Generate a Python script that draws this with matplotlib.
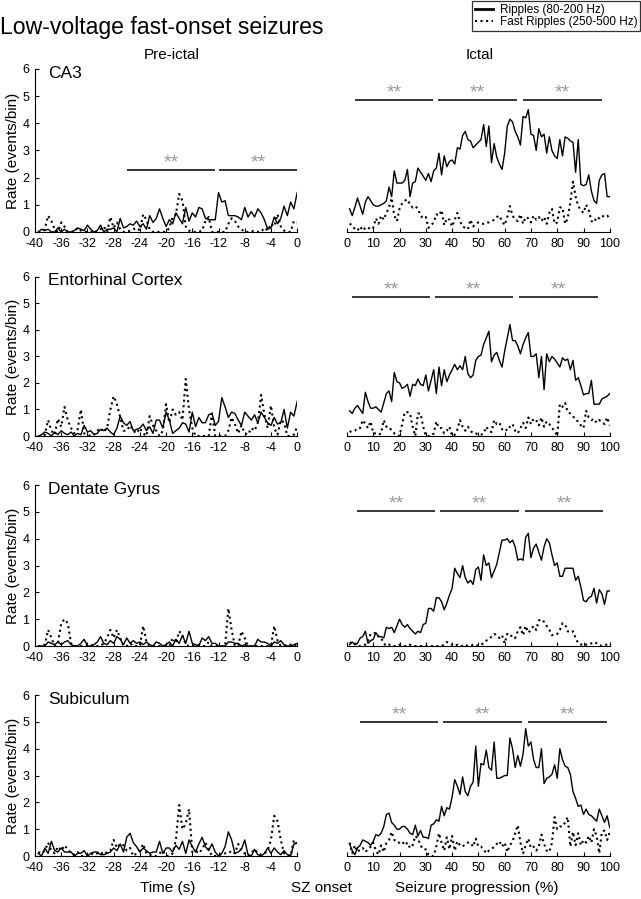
import numpy as np
import matplotlib.pyplot as plt
from matplotlib.lines import Line2D

plt.rcParams['font.family'] = ['Liberation Sans', 'DejaVu Sans']
plt.rcParams['axes.unicode_minus'] = False

# Eixos x: pre-ictal (bins de 0.5 s) e ictal (bins de 1 %)
t_pre = np.arange(-39.5, 0.01, 0.5)
t_ict = np.arange(1, 101)

regioes = ['CA3', 'Entorhinal Cortex', 'Dentate Gyrus', 'Subiculum']

# ---- CA3 ----
ca3_pre_rip = [0.0, 0.1, 0.05, 0.1, 0.0, 0.0, 0.15, 0.0, 0.1, 0.0,
               0.0, 0.05, 0.15, 0.1, 0.05, 0.25, 0.1, 0.0, 0.05, 0.25,
               0.0, 0.1, 0.1, 0.15, 0.0, 0.5, 0.15, 0.2, 0.3, 0.25,
               0.4, 0.2, 0.3, 0.1, 0.6, 0.35, 0.5, 0.85, 0.5, 0.2,
               0.45, 0.3, 0.7, 0.5, 0.3, 0.9, 0.4, 0.7, 0.55, 0.9,
               0.85, 0.5, 0.45, 0.45, 0.45, 1.45, 1.1, 1.15, 0.6, 0.6,
               0.6, 0.55, 0.45, 0.9, 0.55, 0.75, 0.55, 0.85, 0.7, 0.45,
               0.1, 0.15, 0.55, 0.3, 0.5, 0.95, 0.6, 1.1, 0.85, 1.45]
ca3_pre_fr = [0.0, 0.0, 0.1, 0.6, 0.4, 0.1, 0.0, 0.35, 0.2, 0.0,
              0.0, 0.0, 0.15, 0.05, 0.0, 0.0, 0.0, 0.05, 0.0, 0.1,
              0.2, 0.0, 0.55, 0.15, 0.35, 0.1, 0.0, 0.0, 0.05, 0.1,
              0.15, 0.05, 0.65, 0.45, 0.1, 0.0, 0.0, 0.0, 0.0, 0.0,
              0.15, 0.55, 0.65, 1.4, 1.15, 0.2, 0.05, 0.0, 0.0, 0.0,
              0.05, 0.4, 0.55, 0.0, 0.0, 0.0, 0.0, 0.0, 0.3, 0.5,
              0.4, 0.2, 0.1, 0.0, 0.0, 0.05, 0.0, 0.0, 0.0, 0.15,
              0.05, 0.3, 0.2, 0.65, 0.2, 0.05, 0.0, 0.0, 0.4, 0.35]
ca3_ict_rip = [0.85, 0.6, 0.9, 1.25, 0.95, 0.65, 1.1, 1.3, 1.15, 1.0,
               0.95, 0.95, 1.0, 1.05, 1.15, 1.65, 1.3, 2.25, 1.8, 1.8,
               1.8, 1.9, 2.3, 1.3, 1.8, 1.85, 2.35, 2.2, 2.05, 1.9,
               2.15, 1.85, 2.25, 2.35, 2.9, 2.1, 2.8, 2.4, 2.6, 2.65,
               2.5, 3.1, 3.05, 3.55, 3.7, 3.4, 3.35, 3.1, 3.2, 3.3,
               3.4, 3.95, 3.15, 3.9, 2.55, 3.25, 2.75, 2.5, 2.3, 2.9,
               3.9, 4.15, 4.05, 3.7, 3.5, 3.2, 4.25, 4.2, 4.5, 3.6,
               3.55, 3.0, 3.8, 3.5, 3.6, 2.9, 3.5, 3.0, 2.8, 2.7,
               3.4, 2.8, 3.5, 3.45, 3.35, 3.3, 2.2, 3.4, 1.75, 1.7,
               1.75, 2.1, 1.5, 1.15, 1.05, 1.9, 2.1, 2.15, 1.3, 1.3]
ca3_ict_fr = [0.3, 0.25, 0.1, 0.05, 0.2, 0.05, 0.15, 0.1, 0.2, 0.15,
              0.5, 0.3, 0.6, 0.45, 0.7, 0.9, 1.25, 0.6, 0.4, 0.85,
              1.05, 1.15, 1.2, 1.0, 0.9, 0.95, 0.85, 0.6, 0.5, 0.55,
              0.15, 0.25, 0.35, 0.65, 0.6, 0.8, 0.25, 0.5, 0.45, 0.2,
              0.45, 0.7, 0.4, 0.2, 0.15, 0.1, 0.45, 0.2, 0.3, 0.35,
              0.3, 0.3, 0.35, 0.35, 0.4, 0.45, 0.55, 0.6, 0.4, 0.25,
              0.55, 0.95, 0.6, 0.45, 0.4, 0.65, 0.3, 0.55, 0.5, 0.35,
              0.6, 0.45, 0.55, 0.4, 0.55, 0.3, 0.7, 0.85, 0.3, 0.35,
              0.9, 0.9, 0.3, 0.5, 1.1, 1.85, 1.3, 0.95, 0.8, 0.7,
              1.0, 0.8, 0.4, 0.35, 0.55, 0.5, 0.6, 0.55, 0.6, 0.5]

# ---- Entorhinal Cortex ----
ec_pre_rip = [0.0, 0.05, 0.15, 0.1, 0.0, 0.15, 0.05, 0.2, 0.1, 0.05,
              0.15, 0.0, 0.1, 0.05, 0.4, 0.15, 0.2, 0.05, 0.1, 0.25,
              0.2, 0.3, 0.15, 0.05, 0.3, 0.75, 0.5, 0.4, 0.55, 0.2,
              0.25, 0.3, 0.45, 0.2, 0.35, 0.1, 0.6, 0.6, 0.3, 0.9,
              0.6, 0.1, 0.2, 0.3, 0.5, 0.45, 0.15, 0.9, 0.35, 0.7,
              0.5, 0.5, 0.8, 0.85, 0.4, 0.55, 1.45, 1.1, 0.7, 0.9,
              0.85, 0.6, 0.4, 0.9, 0.75, 0.6, 0.8, 0.5, 0.9, 0.7,
              0.5, 0.4, 0.7, 0.45, 0.5, 1.0, 0.3, 0.9, 0.75, 1.3]
ec_pre_fr = [0.0, 0.0, 0.05, 0.6, 0.2, 0.05, 0.65, 0.35, 1.1, 0.6,
             0.3, 0.1, 0.25, 1.0, 0.1, 0.05, 0.0, 0.05, 0.2, 0.3,
             0.15, 0.3, 1.0, 1.5, 1.2, 0.7, 0.2, 0.2, 0.4, 0.2,
             0.1, 0.3, 0.1, 0.0, 0.75, 0.4, 0.2, 0.0, 0.2, 1.2,
             0.5, 1.0, 0.8, 0.9, 0.6, 2.15, 1.0, 0.3, 0.0, 0.0,
             0.0, 0.0, 0.0, 0.85, 0.0, 0.0, 0.0, 0.0, 0.2, 0.7,
             0.45, 0.1, 0.4, 0.1, 0.05, 0.3, 0.2, 0.5, 1.55, 0.8,
             0.3, 1.15, 0.3, 0.05, 0.6, 0.5, 0.0, 0.0, 0.05, 0.35]
ec_ict_rip = [0.95, 0.85, 1.05, 1.15, 1.0, 0.85, 1.65, 1.3, 1.05, 1.05,
              1.1, 1.0, 0.9, 1.25, 1.6, 1.7, 1.3, 2.4, 2.05, 2.0,
              1.8, 1.85, 1.95, 1.5, 1.95, 1.9, 2.15, 1.95, 1.9, 2.3,
              1.7, 2.1, 2.5, 1.6, 2.6, 1.9, 2.5, 2.05, 2.3, 2.5,
              2.7, 2.5, 2.65, 2.5, 3.0, 2.35, 2.2, 2.3, 2.85, 3.0,
              3.05, 3.45, 3.7, 3.95, 2.8, 3.05, 3.15, 2.85, 2.6, 3.2,
              3.7, 4.2, 3.6, 3.6, 3.4, 3.1, 3.45, 3.7, 3.9, 3.0,
              3.0, 3.1, 2.2, 3.0, 1.75, 3.1, 2.8, 3.0, 2.9, 2.75,
              2.6, 2.95, 2.85, 2.9, 2.5, 2.85, 2.1, 2.2, 1.9, 1.55,
              1.6, 1.6, 2.1, 1.2, 1.2, 1.2, 1.4, 1.45, 1.5, 1.6]
ec_ict_fr = [0.15, 0.2, 0.2, 0.3, 0.3, 0.6, 0.45, 0.3, 0.55, 0.1,
             0.1, 0.05, 0.1, 0.6, 0.35, 0.35, 0.2, 0.1, 0.05, 0.0,
             0.45, 0.9, 0.9, 0.85, 0.35, 0.0, 0.85, 0.85, 0.35, 0.0,
             0.0, 0.0, 0.1, 0.55, 0.3, 0.3, 0.1, 0.2, 0.35, 0.0,
             0.05, 0.25, 0.6, 0.35, 0.2, 0.35, 0.2, 0.1, 0.1, 0.05,
             0.05, 0.1, 0.35, 0.2, 0.15, 0.6, 0.45, 0.5, 0.25, 0.3,
             0.2, 0.35, 0.45, 0.2, 0.1, 0.3, 0.5, 0.3, 0.7, 0.45,
             0.65, 0.6, 0.4, 0.7, 0.35, 0.55, 0.45, 0.3, 0.2, 0.0,
             1.2, 1.1, 1.25, 0.9, 0.85, 0.75, 0.6, 0.55, 0.4, 0.3,
             0.95, 0.7, 0.6, 0.65, 0.5, 0.6, 0.55, 0.45, 0.7, 0.4]

# ---- Dentate Gyrus ----
dg_pre_rip = [0.0, 0.0, 0.0, 0.15, 0.1, 0.05, 0.15, 0.05, 0.15, 0.2,
              0.05, 0.0, 0.0, 0.1, 0.25, 0.0, 0.0, 0.05, 0.15, 0.35,
              0.1, 0.05, 0.2, 0.1, 0.35, 0.25, 0.05, 0.3, 0.1, 0.2,
              0.1, 0.15, 0.05, 0.15, 0.05, 0.0, 0.15, 0.1, 0.0, 0.05,
              0.15, 0.0, 0.25, 0.1, 0.4, 0.1, 0.55, 0.1, 0.05, 0.0,
              0.3, 0.2, 0.35, 0.1, 0.1, 0.0, 0.0, 0.0, 0.15, 0.15,
              0.1, 0.1, 0.0, 0.05, 0.0, 0.0, 0.0, 0.25, 0.15, 0.15,
              0.1, 0.0, 0.15, 0.1, 0.2, 0.05, 0.0, 0.0, 0.05, 0.1]
dg_pre_fr = [0.0, 0.0, 0.05, 0.6, 0.3, 0.0, 0.1, 0.85, 1.0, 0.85,
             0.1, 0.0, 0.0, 0.0, 0.0, 0.0, 0.05, 0.0, 0.0, 0.0,
             0.1, 0.3, 0.6, 0.3, 0.6, 0.3, 0.0, 0.0, 0.1, 0.0,
             0.0, 0.0, 0.75, 0.15, 0.0, 0.0, 0.0, 0.0, 0.0, 0.0,
             0.0, 0.3, 0.1, 0.55, 0.4, 0.05, 0.0, 0.0, 0.0, 0.05,
             0.0, 0.0, 0.15, 0.0, 0.0, 0.0, 0.0, 0.0, 1.4, 0.6,
             0.0, 0.0, 0.55, 0.3, 0.0, 0.0, 0.0, 0.0, 0.0, 0.0,
             0.0, 0.0, 0.75, 0.2, 0.0, 0.0, 0.05, 0.05, 0.0, 0.1]
dg_ict_rip = [0.05, 0.15, 0.05, 0.1, 0.3, 0.35, 0.55, 0.1, 0.2, 0.25,
              0.5, 0.35, 0.35, 0.3, 0.7, 0.65, 0.7, 0.5, 0.75, 1.0,
              0.8, 0.7, 0.8, 0.65, 0.55, 0.45, 0.55, 0.5, 0.8, 0.85,
              1.4, 1.4, 1.3, 1.8, 1.8, 1.65, 1.35, 1.6, 1.9, 2.15,
              2.9, 2.7, 2.55, 3.0, 2.55, 2.35, 2.45, 2.3, 2.85, 2.95,
              2.45, 3.4, 3.0, 3.1, 2.55, 2.8, 3.05, 3.5, 3.95, 3.95,
              4.0, 3.85, 3.95, 3.7, 3.2, 3.25, 3.2, 4.05, 4.2, 3.3,
              3.65, 3.8, 3.5, 3.2, 3.7, 4.0, 3.85, 3.4, 3.0, 3.1,
              2.6, 2.6, 2.9, 2.9, 2.9, 2.9, 2.45, 2.6, 2.2, 1.7,
              1.65, 1.8, 1.85, 2.15, 1.6, 2.1, 1.95, 1.55, 2.05, 2.05]
dg_ict_fr = [0.1, 0.15, 0.1, 0.0, 0.0, 0.05, 0.05, 0.2, 0.45, 0.45,
             0.5, 0.35, 0.3, 0.1, 0.0, 0.05, 0.05, 0.0, 0.0, 0.05,
             0.05, 0.0, 0.0, 0.05, 0.0, 0.0, 0.0, 0.0, 0.0, 0.0,
             0.0, 0.0, 0.0, 0.0, 0.0, 0.0, 0.05, 0.15, 0.1, 0.05,
             0.0, 0.05, 0.0, 0.0, 0.05, 0.0, 0.0, 0.05, 0.05, 0.0,
             0.05, 0.1, 0.2, 0.25, 0.35, 0.45, 0.4, 0.3, 0.4, 0.1,
             0.45, 0.35, 0.4, 0.3, 0.55, 0.7, 0.4, 0.75, 0.5, 0.6,
             0.75, 0.6, 0.95, 1.0, 0.9, 0.75, 0.6, 0.4, 0.45, 0.45,
             0.6, 0.85, 0.8, 0.55, 0.5, 0.55, 0.3, 0.1, 0.05, 0.1,
             0.05, 0.05, 0.1, 0.15, 0.1, 0.05, 0.0, 0.05, 0.05, 0.05]

# ---- Subiculum ----
sub_pre_rip = [0.1, 0.0, 0.3, 0.1, 0.55, 0.2, 0.15, 0.3, 0.15, 0.15,
               0.15, 0.0, 0.1, 0.1, 0.2, 0.0, 0.1, 0.15, 0.15, 0.05,
               0.05, 0.1, 0.15, 0.3, 0.2, 0.45, 0.15, 0.7, 0.85, 0.5,
               0.35, 0.15, 0.3, 0.2, 0.1, 0.15, 0.15, 0.55, 0.1, 0.3,
               0.3, 0.15, 0.4, 0.25, 0.55, 0.1, 0.6, 0.35, 0.15, 0.45,
               0.7, 0.35, 0.2, 0.45, 0.15, 0.0, 0.1, 0.35, 0.9, 0.6,
               0.1, 0.15, 0.25, 0.6, 0.05, 0.0, 0.25, 0.05, 0.0, 0.1,
               0.3, 0.1, 0.3, 0.15, 0.05, 0.2, 0.05, 0.0, 0.45, 0.5]
sub_pre_fr = [0.15, 0.1, 0.2, 0.5, 0.2, 0.1, 0.35, 0.2, 0.4, 0.25,
              0.1, 0.05, 0.15, 0.0, 0.0, 0.0, 0.1, 0.05, 0.1, 0.15,
              0.05, 0.15, 0.2, 0.6, 0.3, 0.45, 0.4, 0.2, 0.3, 0.0,
              0.1, 0.2, 0.45, 0.1, 0.05, 0.0, 0.0, 0.1, 0.2, 0.0,
              0.0, 0.1, 0.6, 1.9, 1.0, 1.2, 1.75, 0.15, 0.2, 0.1,
              0.25, 0.5, 0.25, 0.0, 0.0, 0.0, 0.1, 0.1, 0.1, 0.2,
              0.1, 0.45, 0.2, 0.1, 0.0, 0.1, 0.25, 0.1, 0.05, 0.1,
              0.2, 0.6, 1.5, 1.3, 0.6, 0.1, 0.05, 0.0, 0.6, 0.4]
sub_ict_rip = [0.45, 0.2, 0.05, 0.3, 0.4, 0.6, 0.55, 0.5, 0.4, 0.55,
               0.8, 0.75, 0.85, 1.1, 1.55, 1.6, 1.25, 1.15, 1.0, 1.0,
               1.1, 1.1, 1.0, 0.85, 0.8, 1.15, 0.75, 0.95, 0.7, 0.7,
               0.65, 1.15, 1.2, 1.35, 1.3, 1.85, 1.5, 1.8, 1.75, 2.2,
               2.85, 2.6, 2.3, 2.95, 2.4, 2.25, 2.6, 2.75, 4.1, 2.6,
               3.45, 3.4, 3.95, 3.3, 3.2, 4.25, 2.9, 2.9, 2.95, 3.0,
               3.0, 4.4, 4.0, 3.3, 3.75, 3.35, 3.8, 4.75, 4.1, 4.25,
               3.6, 3.3, 3.3, 4.0, 2.7, 2.9, 2.95, 3.05, 3.4, 2.9,
               4.0, 3.6, 3.35, 3.3, 3.05, 2.4, 2.15, 1.85, 1.9, 1.55,
               1.75, 1.55, 1.5, 1.4, 1.3, 1.75, 1.5, 1.25, 1.5, 1.05]
sub_ict_fr = [0.5, 0.1, 0.4, 0.15, 0.25, 0.3, 0.15, 0.25, 0.35, 0.5,
              0.2, 0.05, 0.4, 0.15, 0.5, 0.6, 0.9, 0.6, 0.5, 0.5,
              0.55, 0.4, 0.5, 0.3, 0.4, 0.75, 0.65, 0.4, 0.25, 0.25,
              0.05, 0.0, 0.0, 0.35, 0.85, 0.5, 0.2, 0.7, 0.25, 0.75,
              0.2, 0.55, 0.4, 0.35, 0.45, 0.5, 0.5, 0.35, 0.65, 0.35,
              0.35, 0.25, 0.1, 0.2, 0.25, 0.35, 0.45, 0.55, 0.35, 0.5,
              0.15, 0.4, 0.55, 0.85, 1.15, 0.5, 0.1, 0.4, 0.65, 0.3,
              0.35, 0.2, 0.35, 0.8, 0.45, 0.2, 0.15, 0.5, 1.45, 1.0,
              1.1, 1.1, 1.25, 1.45, 0.35, 0.9, 0.4, 0.85, 0.4, 0.6,
              0.5, 0.75, 0.5, 1.0, 0.75, 0.1, 0.9, 0.95, 0.6, 0.9]

pre_rip = [ca3_pre_rip, ec_pre_rip, dg_pre_rip, sub_pre_rip]
pre_fr = [ca3_pre_fr, ec_pre_fr, dg_pre_fr, sub_pre_fr]
ict_rip = [ca3_ict_rip, ec_ict_rip, dg_ict_rip, sub_ict_rip]
ict_fr = [ca3_ict_fr, ec_ict_fr, dg_ict_fr, sub_ict_fr]

# Barras de significancia (inicio, fim) e altura
sig_pre = [[(-26, -12.5), (-12, 0)], [], [], []]
sig_pre_y = [2.28, 0, 0, 0]
sig_ict = [[(3, 32.7), (34.6, 64.6), (67, 97)],
           [(1.9, 31.6), (33.5, 63), (65.4, 95.4)],
           [(3.8, 33.5), (35.4, 65.4), (67.7, 97.3)],
           [(4.9, 34.6), (36.5, 66.5), (68.8, 98.9)]]
sig_ict_y = [4.86, 5.24, 5.03, 5.0]

pre_ticks = np.arange(-40, 1, 4)
ict_ticks = np.arange(0, 101, 10)

fig = plt.figure(figsize=(6.41, 8.99), dpi=100)

# posicoes das linhas de graficos (fundo, altura) em fracao da figura
linhas = [(0.742, 0.1813), (0.515, 0.177), (0.2814, 0.179), (0.0478, 0.179)]


def barras(ax, segs, y):
    for a, b in segs:
        ax.plot([a, b], [y, y], color='black', lw=1.1, solid_capstyle='butt')
        ax.text((a + b) / 2, y + 0.1, '**', color='#9a9a9a', fontsize=14,
                ha='center', va='baseline')


for i, nome in enumerate(regioes):
    bottom, h = linhas[i]

    # Pre-ictal
    ax = fig.add_axes([0.0546, bottom, 0.409, h])
    ax.plot(t_pre, pre_rip[i], color='black', lw=1.0)
    ax.plot(t_pre, pre_fr[i], color='black', lw=1.5, ls=':')
    barras(ax, sig_pre[i], sig_pre_y[i])
    ax.set_xlim(-40, 0)
    ax.set_ylim(0, 6)
    ax.set_xticks(pre_ticks)
    ax.set_yticks(range(7))
    ax.spines['top'].set_visible(False)
    ax.spines['right'].set_visible(False)
    ax.tick_params(direction='in', length=3, labelsize=9)
    ax.tick_params(axis='x', pad=4.5)
    ax.tick_params(axis='y', pad=4)
    ax.set_ylabel('Rate (events/bin)', fontsize=11, labelpad=2)
    ax.text(0.05, 0.975, nome, transform=ax.transAxes, fontsize=12.5,
            ha='left', va='center')

    # Ictal
    ax2 = fig.add_axes([0.5413, bottom, 0.410, h])
    ax2.plot(t_ict, ict_rip[i], color='black', lw=1.0)
    ax2.plot(t_ict, ict_fr[i], color='black', lw=1.5, ls=':')
    barras(ax2, sig_ict[i], sig_ict_y[i])
    ax2.set_xlim(0, 100)
    ax2.set_ylim(0, 6)
    ax2.set_xticks(ict_ticks)
    ax2.set_yticks([])
    for s in ['top', 'right', 'left']:
        ax2.spines[s].set_visible(False)
    ax2.tick_params(direction='in', length=3, labelsize=9, pad=4.5)

fig.text(0.0, 0.969, 'Low-voltage fast-onset seizures', fontsize=16.6,
         ha='left', va='center')
fig.text(0.268, 0.939, 'Pre-ictal', fontsize=11, ha='center', va='center')
fig.text(0.749, 0.939, 'Ictal', fontsize=11, ha='center', va='center')
fig.text(0.262, 0.012, 'Time (s)', fontsize=11, ha='center', va='center')
fig.text(0.501, 0.012, 'SZ onset', fontsize=11, ha='center', va='center')
fig.text(0.743, 0.012, 'Seizure progression (%)', fontsize=11,
         ha='center', va='center')

handles = [Line2D([], [], color='black', lw=2.0),
           Line2D([], [], color='black', lw=1.5, ls=':')]
leg = fig.legend(handles, ['Ripples (80-200 Hz)', 'Fast Ripples (250-500 Hz)'],
                 loc='upper right', bbox_to_anchor=(0.999, 0.999),
                 fontsize=8.5, frameon=True, fancybox=False,
                 edgecolor='black', handlelength=1.5, handletextpad=0.6,
                 borderpad=0.25, labelspacing=0.0, borderaxespad=0)
leg.get_frame().set_linewidth(0.9)

fig.savefig('out.png', dpi=100)
